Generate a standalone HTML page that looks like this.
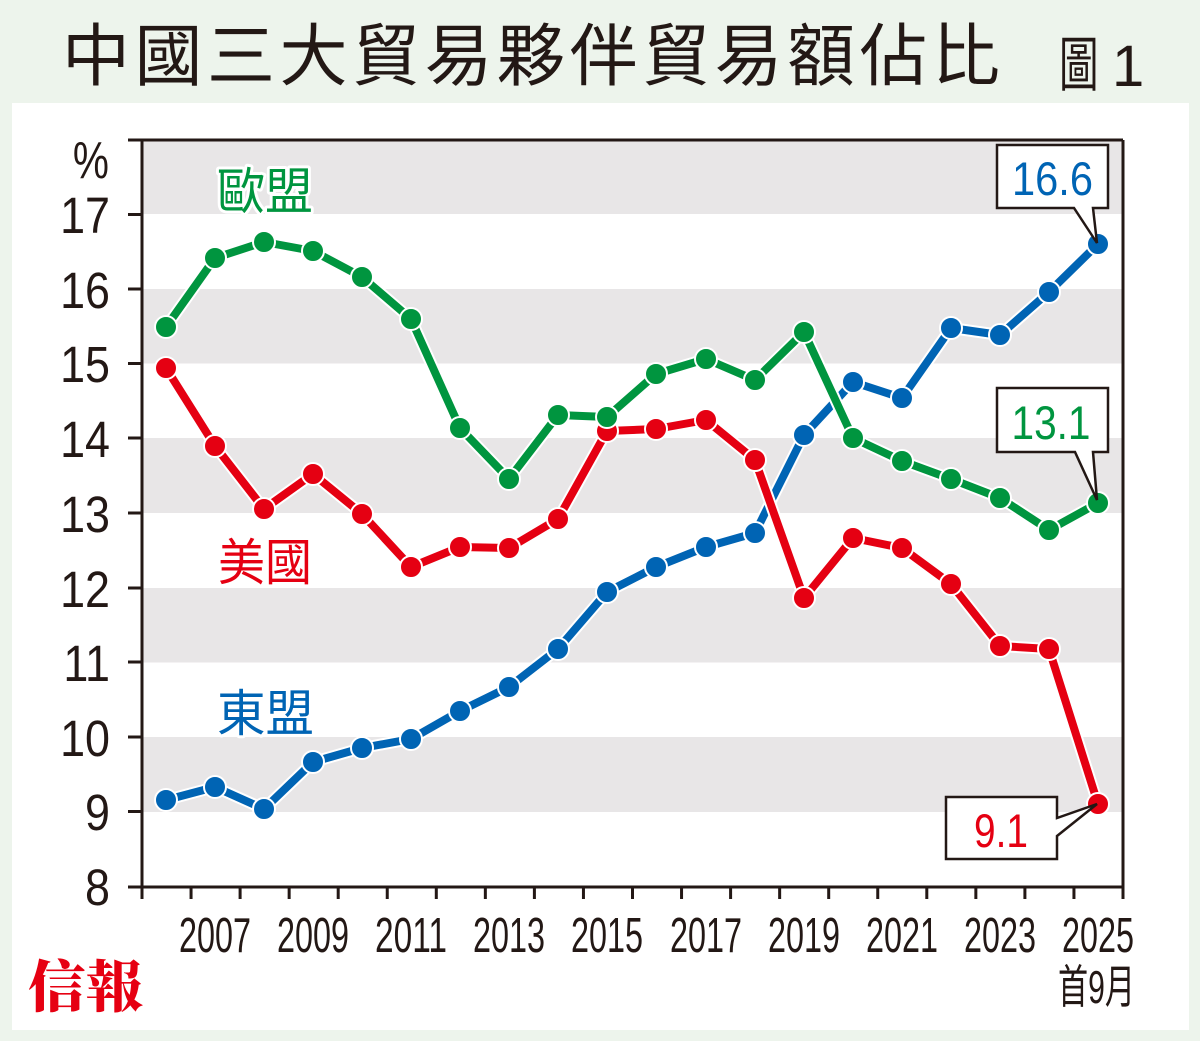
<!DOCTYPE html>
<html><head><meta charset="utf-8"><style>
html,body{margin:0;padding:0;background:#edf4ec;}
svg{display:block;}
</style></head><body>
<svg width="1200" height="1041" viewBox="0 0 1200 1041" xmlns="http://www.w3.org/2000/svg">
<rect x="0" y="0" width="1200" height="1041" fill="#edf4ec"/>
<rect x="12" y="103" width="1177" height="927" fill="#ffffff"/>
<!-- title -->
<text x="62" y="80" font-family="'Noto Sans CJK TC','Noto Sans CJK SC',sans-serif" font-size="68" fill="#231815" textLength="938" lengthAdjust="spacing">中國三大貿易夥伴貿易額佔比</text>
<g transform="translate(1059,86) scale(0.66,1)"><text x="0" y="0" font-family="'Noto Sans CJK TC',sans-serif" font-size="60" fill="#231815">圖</text></g>
<text x="1112" y="86" font-family="'Liberation Sans',sans-serif" font-size="58" fill="#231815">1</text>

<!-- bands -->
<g fill="#e8e6e7">
<rect x="142" y="140" width="981" height="74"/>
<rect x="142" y="289" width="981" height="74.5"/>
<rect x="142" y="438" width="981" height="75"/>
<rect x="142" y="588" width="981" height="74.5"/>
<rect x="142" y="737" width="981" height="75"/>
</g>

<!-- axes -->
<g stroke="#231815" stroke-width="3" fill="none">
<line x1="128" y1="140" x2="1123" y2="140"/>
<line x1="142" y1="140" x2="142" y2="899"/>
<line x1="1123" y1="140" x2="1123" y2="899"/>
<line x1="128" y1="887" x2="1123" y2="887"/>
<path d="M128 214.5H142M128 289H142M128 363.5H142M128 438H142M128 513H142M128 588H142M128 662H142M128 737H142M128 811.5H142"/>
<path d="M191.05 887V899M240.1 887V899M289.15 887V899M338.2 887V899M387.25 887V899M436.3 887V899M485.35 887V899M534.4 887V899M583.45 887V899M632.5 887V899M681.55 887V899M730.6 887V899M779.65 887V899M828.7 887V899M877.75 887V899M926.8 887V899M975.85 887V899M1024.9 887V899M1073.95 887V899"/>
</g>

<!-- y labels -->
<g font-family="'Liberation Sans',sans-serif" font-size="51" fill="#231815" text-anchor="end">
<g transform="translate(110,0) scale(0.88,1)">
<text x="0" y="233">17</text>
<text x="0" y="308">16</text>
<text x="0" y="382">15</text>
<text x="0" y="457">14</text>
<text x="0" y="532">13</text>
<text x="0" y="607">12</text>
<text x="0" y="681">11</text>
<text x="0" y="756">10</text>
<text x="0" y="830">9</text>
<text x="0" y="905">8</text>
</g>
<g transform="translate(109,0) scale(0.78,1)"><text x="0" y="178" font-size="52">%</text></g>
</g>

<!-- x labels -->
<g font-family="'Liberation Sans',sans-serif" font-size="49" fill="#231815" text-anchor="middle">
<text x="215" y="952" textLength="72" lengthAdjust="spacingAndGlyphs">2007</text>
<text x="313" y="952" textLength="72" lengthAdjust="spacingAndGlyphs">2009</text>
<text x="411" y="952" textLength="72" lengthAdjust="spacingAndGlyphs">2011</text>
<text x="509" y="952" textLength="72" lengthAdjust="spacingAndGlyphs">2013</text>
<text x="607" y="952" textLength="72" lengthAdjust="spacingAndGlyphs">2015</text>
<text x="706" y="952" textLength="72" lengthAdjust="spacingAndGlyphs">2017</text>
<text x="804" y="952" textLength="72" lengthAdjust="spacingAndGlyphs">2019</text>
<text x="902" y="952" textLength="72" lengthAdjust="spacingAndGlyphs">2021</text>
<text x="1000" y="952" textLength="72" lengthAdjust="spacingAndGlyphs">2023</text>
<text x="1098" y="952" textLength="72" lengthAdjust="spacingAndGlyphs">2025</text>
</g>
<text x="1058" y="1003" font-family="'Liberation Sans','Noto Sans CJK TC',sans-serif" font-size="46" fill="#231815" textLength="77" lengthAdjust="spacingAndGlyphs">首9月</text>

<!-- logo -->
<text x="28" y="1007" font-family="'Noto Serif CJK SC','Noto Serif CJK TC',serif" font-weight="900" font-size="56" fill="#e60012" textLength="115" lengthAdjust="spacingAndGlyphs">信報</text>

<!-- series: blue -->
<g>
<polyline fill="none" stroke="#fff" stroke-width="12" stroke-linejoin="round" points="166,800 215,787 264,809 313,762 362,748 411,739 460,711 509,687 558,649 607,592 656,567 706,547 755,533 804,435 853,382 902,398 951,328 1000,335 1049,292 1098,244"/>
<polyline fill="none" stroke="#0064b4" stroke-width="8" stroke-linejoin="round" points="166,800 215,787 264,809 313,762 362,748 411,739 460,711 509,687 558,649 607,592 656,567 706,547 755,533 804,435 853,382 902,398 951,328 1000,335 1049,292 1098,244"/>
<g fill="#0064b4" stroke="#fff" stroke-width="2">
<circle cx="166" cy="800" r="11"/><circle cx="215" cy="787" r="11"/><circle cx="264" cy="809" r="11"/><circle cx="313" cy="762" r="11"/><circle cx="362" cy="748" r="11"/><circle cx="411" cy="739" r="11"/><circle cx="460" cy="711" r="11"/><circle cx="509" cy="687" r="11"/><circle cx="558" cy="649" r="11"/><circle cx="607" cy="592" r="11"/><circle cx="656" cy="567" r="11"/><circle cx="706" cy="547" r="11"/><circle cx="755" cy="533" r="11"/><circle cx="804" cy="435" r="11"/><circle cx="853" cy="382" r="11"/><circle cx="902" cy="398" r="11"/><circle cx="951" cy="328" r="11"/><circle cx="1000" cy="335" r="11"/><circle cx="1049" cy="292" r="11"/><circle cx="1098" cy="244" r="11"/>
</g>
</g>

<!-- series: red -->
<g>
<polyline fill="none" stroke="#fff" stroke-width="12" stroke-linejoin="round" points="166,368 215,446 264,509 313,474 362,514 411,567 460,547 509,548 558,519 607,431 656,429 706,420 755,460 804,598 853,538 902,548 951,584 1000,646 1049,649 1098,804"/>
<polyline fill="none" stroke="#e50012" stroke-width="8" stroke-linejoin="round" points="166,368 215,446 264,509 313,474 362,514 411,567 460,547 509,548 558,519 607,431 656,429 706,420 755,460 804,598 853,538 902,548 951,584 1000,646 1049,649 1098,804"/>
<g fill="#e50012" stroke="#fff" stroke-width="2">
<circle cx="166" cy="368" r="11"/><circle cx="215" cy="446" r="11"/><circle cx="264" cy="509" r="11"/><circle cx="313" cy="474" r="11"/><circle cx="362" cy="514" r="11"/><circle cx="411" cy="567" r="11"/><circle cx="460" cy="547" r="11"/><circle cx="509" cy="548" r="11"/><circle cx="558" cy="519" r="11"/><circle cx="607" cy="431" r="11"/><circle cx="656" cy="429" r="11"/><circle cx="706" cy="420" r="11"/><circle cx="755" cy="460" r="11"/><circle cx="804" cy="598" r="11"/><circle cx="853" cy="538" r="11"/><circle cx="902" cy="548" r="11"/><circle cx="951" cy="584" r="11"/><circle cx="1000" cy="646" r="11"/><circle cx="1049" cy="649" r="11"/><circle cx="1098" cy="804" r="11"/>
</g>
</g>

<!-- series: green -->
<g>
<polyline fill="none" stroke="#fff" stroke-width="12" stroke-linejoin="round" points="166,327 215,258 264,242 313,251 362,277 411,319 460,428 509,479 558,415 607,417 656,374 706,359 755,380 804,332 853,438 902,461 951,479 1000,498 1049,530 1098,503"/>
<polyline fill="none" stroke="#00953f" stroke-width="8" stroke-linejoin="round" points="166,327 215,258 264,242 313,251 362,277 411,319 460,428 509,479 558,415 607,417 656,374 706,359 755,380 804,332 853,438 902,461 951,479 1000,498 1049,530 1098,503"/>
<g fill="#00953f" stroke="#fff" stroke-width="2">
<circle cx="166" cy="327" r="11"/><circle cx="215" cy="258" r="11"/><circle cx="264" cy="242" r="11"/><circle cx="313" cy="251" r="11"/><circle cx="362" cy="277" r="11"/><circle cx="411" cy="319" r="11"/><circle cx="460" cy="428" r="11"/><circle cx="509" cy="479" r="11"/><circle cx="558" cy="415" r="11"/><circle cx="607" cy="417" r="11"/><circle cx="656" cy="374" r="11"/><circle cx="706" cy="359" r="11"/><circle cx="755" cy="380" r="11"/><circle cx="804" cy="332" r="11"/><circle cx="853" cy="438" r="11"/><circle cx="902" cy="461" r="11"/><circle cx="951" cy="479" r="11"/><circle cx="1000" cy="498" r="11"/><circle cx="1049" cy="530" r="11"/><circle cx="1098" cy="503" r="11"/>
</g>
</g>

<!-- series labels -->
<g font-family="'Noto Sans CJK TC','Noto Sans CJK SC',sans-serif" font-size="50" stroke="#fff" stroke-width="6" paint-order="stroke" stroke-linejoin="round">
<text x="217" y="209" fill="#00953f" textLength="96" lengthAdjust="spacingAndGlyphs">歐盟</text>
<text x="218" y="580" fill="#e50012" textLength="94" lengthAdjust="spacingAndGlyphs">美國</text>
<text x="217" y="731" fill="#0064b4" textLength="97" lengthAdjust="spacingAndGlyphs">東盟</text>
</g>

<!-- callouts -->
<g fill="#fff" stroke="#231815" stroke-width="2.5" stroke-linejoin="miter">
<path d="M997 145H1108V208H1093L1097 243L1074 208H997Z"/>
<path d="M997 388H1108V452H1093L1097 500L1075 452H997Z"/>
<path d="M946 797H1057V818L1097 804L1057 836V859H946Z"/>
</g>
<g font-family="'Liberation Sans',sans-serif" font-size="47" text-anchor="middle">
<text x="1052.5" y="195" fill="#0064b4" textLength="81" lengthAdjust="spacingAndGlyphs">16.6</text>
<text x="1051" y="439" fill="#00953f" textLength="79" lengthAdjust="spacingAndGlyphs">13.1</text>
<text x="1001" y="847" fill="#e50012" textLength="54" lengthAdjust="spacingAndGlyphs">9.1</text>
</g>
</svg>
</body></html>
